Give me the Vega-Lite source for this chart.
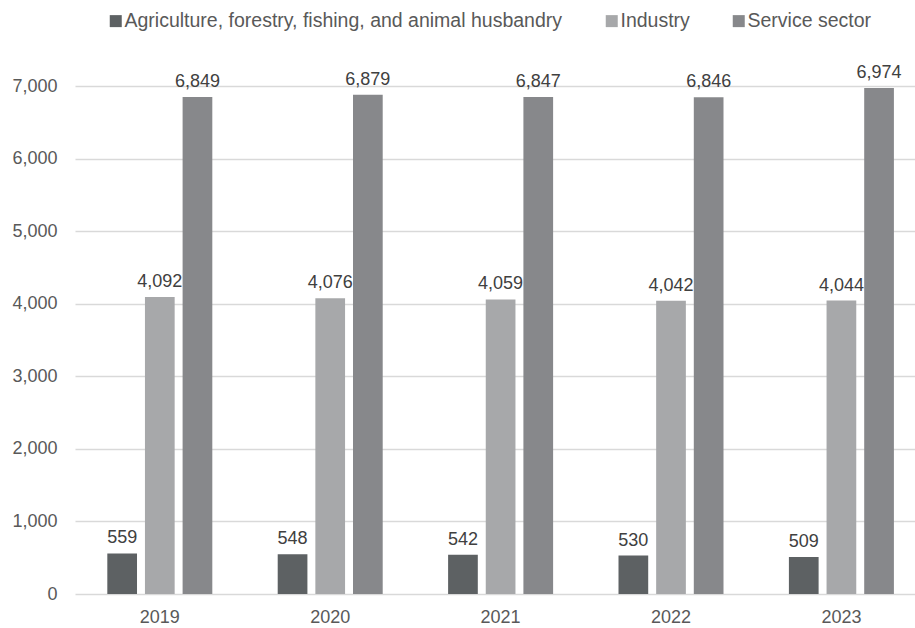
{
  "$schema": "https://vega.github.io/schema/vega-lite/v6.json",
  "width": 840,
  "height": 508,
  "autosize": {"type": "none"},
  "padding": {"left": 75, "top": 86, "right": 0, "bottom": 34},
  "background": "white",
  "config": {
    "font": "Liberation Sans",
    "view": {"stroke": null},
    "axis": {"labelFont": "Liberation Sans"},
    "legend": {"labelFont": "Liberation Sans"},
    "text": {"font": "Liberation Sans"}
  },
  "data": {
    "values": [
      {"year": "2019", "sector": "Agriculture, forestry, fishing, and animal husbandry", "value": 559},
      {"year": "2019", "sector": "Industry", "value": 4092},
      {"year": "2019", "sector": "Service sector", "value": 6849},
      {"year": "2020", "sector": "Agriculture, forestry, fishing, and animal husbandry", "value": 548},
      {"year": "2020", "sector": "Industry", "value": 4076},
      {"year": "2020", "sector": "Service sector", "value": 6879},
      {"year": "2021", "sector": "Agriculture, forestry, fishing, and animal husbandry", "value": 542},
      {"year": "2021", "sector": "Industry", "value": 4059},
      {"year": "2021", "sector": "Service sector", "value": 6847},
      {"year": "2022", "sector": "Agriculture, forestry, fishing, and animal husbandry", "value": 530},
      {"year": "2022", "sector": "Industry", "value": 4042},
      {"year": "2022", "sector": "Service sector", "value": 6846},
      {"year": "2023", "sector": "Agriculture, forestry, fishing, and animal husbandry", "value": 509},
      {"year": "2023", "sector": "Industry", "value": 4044},
      {"year": "2023", "sector": "Service sector", "value": 6974}
    ]
  },
  "encoding": {
    "x": {
      "field": "year",
      "type": "nominal",
      "scale": {"paddingInner": 0.3838, "paddingOuter": 0.1567, "align": 0.605},
      "axis": {
        "title": null,
        "labelAngle": 0,
        "labelFont": "Liberation Sans",
        "labelFontSize": 18,
        "labelColor": "#595959",
        "labelPadding": 14,
        "ticks": false,
        "domain": false
      }
    },
    "xOffset": {
      "field": "sector",
      "type": "nominal",
      "scale": {"paddingInner": 0.211, "paddingOuter": 0, "domain": ["Agriculture, forestry, fishing, and animal husbandry", "Industry", "Service sector"]}
    },
    "y": {
      "field": "value",
      "type": "quantitative",
      "scale": {"domain": [0, 7000], "nice": false},
      "axis": {
        "title": null,
        "values": [0, 1000, 2000, 3000, 4000, 5000, 6000, 7000],
        "format": ",.0f",
        "labelFont": "Liberation Sans",
        "labelFontSize": 18,
        "labelColor": "#595959",
        "labelPadding": 18,
        "ticks": false,
        "domain": false,
        "gridColor": "#d9d9d9",
        "gridWidth": 1.5
      }
    }
  },
  "layer": [
    {
      "mark": {"type": "bar"},
      "encoding": {
        "color": {
          "field": "sector",
          "type": "nominal",
          "scale": {
            "domain": ["Agriculture, forestry, fishing, and animal husbandry", "Industry", "Service sector"],
            "range": ["#5d6163", "#a7a8aa", "#87888b"]
          },
          "legend": {
            "title": null,
            "orient": "none",
            "direction": "horizontal",
            "legendX": 31,
            "legendY": -75,
            "padding": 0,
            "symbolType": "square",
            "symbolSize": 144,
            "symbolStrokeWidth": 0,
            "labelFont": "Liberation Sans",
            "labelFontSize": 19.5,
            "labelColor": "#595959",
            "labelOffset": -1,
            "columnPadding": 39,
            "labelLimit": 600
          }
        }
      }
    },
    {
      "mark": {"type": "text", "dy": -10, "baseline": "alphabetic", "fontSize": 18, "font": "Liberation Sans", "color": "#404040"},
      "encoding": {
        "text": {"field": "value", "type": "quantitative", "format": ",.0f"}
      }
    }
  ]
}
